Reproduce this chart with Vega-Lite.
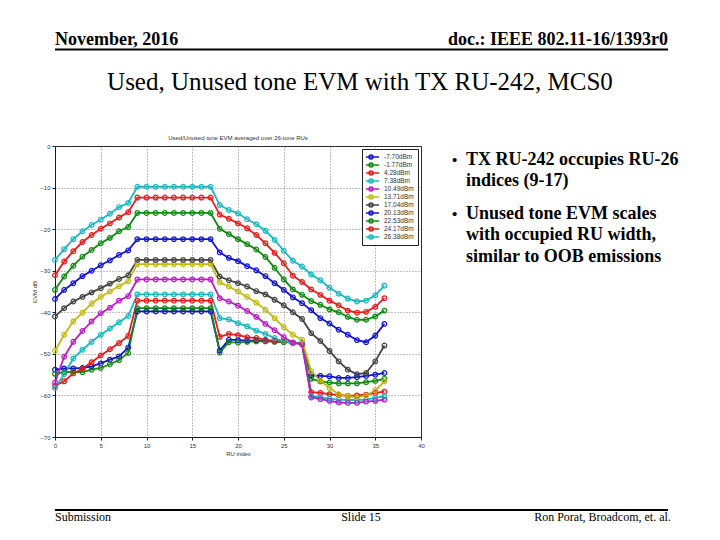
{
  "$schema": "https://vega.github.io/schema/vega-lite/v6.json",
  "width": 366,
  "height": 291,
  "autosize": {"type": "none"},
  "padding": {"left": 55, "top": 146, "right": 299, "bottom": 103},
  "background": "white",
  "config": {
    "view": {"stroke": "#1a1a1a", "strokeWidth": 1},
    "font": "Liberation Sans"
  },
  "layer": [
    {
      "data": {"values": [
        {"x":0,"A":-53.8,"B":-54.8,"C":-57.7,"D":-58.2,"E":-56.9,"F":-49.3,"G":-41.0,"H":-36.8,"I":-34.6,"J":-31.1,"K":-27.4},
        {"x":1,"A":-53.5,"B":-54.4,"C":-56.6,"D":-54.9,"E":-50.7,"F":-45.4,"G":-39.0,"H":-34.6,"I":-31.4,"J":-27.8,"K":-24.8},
        {"x":2,"A":-53.5,"B":-54.3,"C":-54.7,"D":-51.1,"E":-47.1,"F":-42.2,"G":-37.4,"H":-33.0,"I":-28.8,"J":-25.3,"K":-22.4},
        {"x":3,"A":-53.4,"B":-54.4,"C":-53.6,"D":-49.0,"E":-44.5,"F":-40.1,"G":-36.3,"H":-31.3,"I":-26.6,"J":-23.1,"K":-20.5},
        {"x":4,"A":-53.0,"B":-53.8,"C":-52.0,"D":-47.1,"E":-42.2,"F":-37.9,"G":-35.2,"H":-30.0,"I":-25.0,"J":-21.4,"K":-19.0},
        {"x":5,"A":-52.3,"B":-53.4,"C":-50.4,"D":-45.4,"E":-40.2,"F":-36.3,"G":-34.2,"H":-28.7,"I":-23.4,"J":-19.9,"K":-17.7},
        {"x":6,"A":-51.4,"B":-52.5,"C":-48.9,"D":-43.9,"E":-38.9,"F":-35.0,"G":-33.1,"H":-27.5,"I":-22.1,"J":-18.6,"K":-16.3},
        {"x":7,"A":-50.6,"B":-51.5,"C":-47.4,"D":-42.4,"E":-37.2,"F":-33.7,"G":-32.0,"H":-26.2,"I":-20.5,"J":-17.2,"K":-14.7},
        {"x":8,"A":-48.5,"B":-49.8,"C":-45.7,"D":-40.9,"E":-36.1,"F":-32.5,"G":-31.1,"H":-25.1,"I":-19.5,"J":-15.9,"K":-13.7},
        {"x":9,"A":-39.8,"B":-39.0,"C":-37.2,"D":-35.7,"E":-32.1,"F":-28.4,"G":-27.4,"H":-22.4,"I":-16.1,"J":-12.4,"K":-9.8},
        {"x":10,"A":-39.8,"B":-39.0,"C":-37.2,"D":-35.7,"E":-32.1,"F":-28.4,"G":-27.4,"H":-22.4,"I":-16.1,"J":-12.4,"K":-9.8},
        {"x":11,"A":-39.8,"B":-39.0,"C":-37.2,"D":-35.7,"E":-32.1,"F":-28.4,"G":-27.4,"H":-22.4,"I":-16.1,"J":-12.4,"K":-9.8},
        {"x":12,"A":-39.8,"B":-39.0,"C":-37.2,"D":-35.7,"E":-32.1,"F":-28.4,"G":-27.4,"H":-22.4,"I":-16.1,"J":-12.4,"K":-9.8},
        {"x":13,"A":-39.8,"B":-39.0,"C":-37.2,"D":-35.7,"E":-32.1,"F":-28.4,"G":-27.4,"H":-22.4,"I":-16.1,"J":-12.4,"K":-9.8},
        {"x":14,"A":-39.8,"B":-39.0,"C":-37.2,"D":-35.7,"E":-32.1,"F":-28.4,"G":-27.4,"H":-22.4,"I":-16.1,"J":-12.4,"K":-9.8},
        {"x":15,"A":-39.8,"B":-39.0,"C":-37.2,"D":-35.7,"E":-32.1,"F":-28.4,"G":-27.4,"H":-22.4,"I":-16.1,"J":-12.4,"K":-9.8},
        {"x":16,"A":-39.8,"B":-39.0,"C":-37.2,"D":-35.7,"E":-32.1,"F":-28.4,"G":-27.4,"H":-22.4,"I":-16.1,"J":-12.4,"K":-9.8},
        {"x":17,"A":-39.8,"B":-39.0,"C":-37.2,"D":-35.7,"E":-32.1,"F":-28.4,"G":-27.4,"H":-22.4,"I":-16.1,"J":-12.4,"K":-9.8},
        {"x":18,"A":-49.2,"B":-49.7,"C":-45.9,"D":-41.4,"E":-36.6,"F":-32.8,"G":-31.4,"H":-25.6,"I":-19.9,"J":-16.5,"K":-14.2},
        {"x":19,"A":-46.6,"B":-47.2,"C":-45.2,"D":-41.7,"E":-37.4,"F":-33.8,"G":-32.3,"H":-26.9,"I":-21.2,"J":-17.5,"K":-15.4},
        {"x":20,"A":-46.7,"B":-47.3,"C":-45.5,"D":-42.6,"E":-38.4,"F":-35.0,"G":-33.0,"H":-27.7,"I":-22.4,"J":-18.6,"K":-16.2},
        {"x":21,"A":-46.8,"B":-47.1,"C":-46.0,"D":-43.4,"E":-39.7,"F":-36.3,"G":-33.8,"H":-28.9,"I":-23.6,"J":-19.8,"K":-17.6},
        {"x":22,"A":-46.8,"B":-47.0,"C":-46.2,"D":-44.4,"E":-41.1,"F":-37.7,"G":-34.9,"H":-29.9,"I":-24.9,"J":-21.4,"K":-18.8},
        {"x":23,"A":-46.9,"B":-47.0,"C":-46.6,"D":-45.2,"E":-42.8,"F":-39.4,"G":-35.7,"H":-31.3,"I":-26.7,"J":-23.4,"K":-20.4},
        {"x":24,"A":-46.9,"B":-47.1,"C":-46.9,"D":-46.2,"E":-44.3,"F":-41.4,"G":-37.0,"H":-33.0,"I":-29.3,"J":-25.7,"K":-22.6},
        {"x":25,"A":-47.1,"B":-47.2,"C":-47.0,"D":-47.0,"E":-46.0,"F":-43.6,"G":-38.3,"H":-34.6,"I":-32.1,"J":-28.2,"K":-25.2},
        {"x":26,"A":-47.3,"B":-47.3,"C":-47.3,"D":-47.4,"E":-47.3,"F":-45.4,"G":-40.0,"H":-36.4,"I":-34.5,"J":-31.2,"K":-27.6},
        {"x":27,"A":-47.5,"B":-47.5,"C":-47.6,"D":-47.6,"E":-47.7,"F":-46.6,"G":-41.6,"H":-37.8,"I":-35.8,"J":-32.7,"K":-29.0},
        {"x":28,"A":-55.2,"B":-56.0,"C":-59.2,"D":-60.2,"E":-60.5,"F":-54.2,"G":-45.0,"H":-39.5,"I":-37.3,"J":-34.5,"K":-30.9},
        {"x":29,"A":-55.3,"B":-56.6,"C":-59.4,"D":-60.5,"E":-60.9,"F":-56.4,"G":-46.9,"H":-41.4,"I":-38.2,"J":-35.8,"K":-32.3},
        {"x":30,"A":-55.4,"B":-56.9,"C":-59.7,"D":-60.8,"E":-61.3,"F":-58.2,"G":-49.3,"H":-42.7,"I":-39.3,"J":-37.2,"K":-34.1},
        {"x":31,"A":-55.8,"B":-57.1,"C":-59.9,"D":-61.0,"E":-61.7,"F":-59.7,"G":-51.8,"H":-44.2,"I":-40.0,"J":-38.3,"K":-35.5},
        {"x":32,"A":-55.8,"B":-57.1,"C":-60.1,"D":-61.1,"E":-61.8,"F":-60.2,"G":-53.8,"H":-45.4,"I":-41.1,"J":-39.6,"K":-36.7},
        {"x":33,"A":-55.6,"B":-57.1,"C":-60.0,"D":-61.1,"E":-61.8,"F":-60.5,"G":-54.9,"H":-46.7,"I":-41.8,"J":-40.1,"K":-37.4},
        {"x":34,"A":-55.3,"B":-56.8,"C":-59.8,"D":-61.0,"E":-61.5,"F":-60.0,"G":-54.6,"H":-47.2,"I":-41.8,"J":-39.9,"K":-37.2},
        {"x":35,"A":-55.0,"B":-56.5,"C":-59.4,"D":-60.6,"E":-61.3,"F":-58.8,"G":-51.8,"H":-45.6,"I":-41.0,"J":-38.7,"K":-35.9},
        {"x":36,"A":-54.6,"B":-56.0,"C":-59.1,"D":-60.2,"E":-61.0,"F":-56.6,"G":-48.0,"H":-42.8,"I":-39.6,"J":-36.6,"K":-33.6}
      ]},
      "transform": [{"fold": ["A","B","C","D","E","F","G","H","I","J","K"], "as": ["s","evm"]}],
      "mark": {"type": "line", "strokeWidth": 1.8, "point": {"filled": false, "size": 22, "strokeWidth": 1.2}},
      "encoding": {
        "x": {"field": "x", "type": "quantitative", "title": "RU index",
          "scale": {"domain": [0, 40], "nice": false, "zero": false},
          "axis": {"values": [0,5,10,15,20,25,30,35,40], "labelFontSize": 6, "labelColor": "#333333", "tickSize": 3, "tickColor": "#222222", "domainColor": "#1a1a1a", "gridColor": "#666666", "gridDash": [1,2], "gridWidth": 0.8, "titleFontSize": 6, "titleFontWeight": "normal", "titleColor": "#333333", "titlePadding": 2, "labelPadding": 2, "labelFlush": false}},
        "y": {"field": "evm", "type": "quantitative", "title": "EVM dB",
          "scale": {"domain": [-70, 0], "nice": false, "zero": false},
          "axis": {"values": [-70,-60,-50,-40,-30,-20,-10,0], "labelFontSize": 6, "labelColor": "#333333", "tickSize": 3, "tickColor": "#222222", "domainColor": "#1a1a1a", "gridColor": "#666666", "gridDash": [1,2], "gridWidth": 0.8, "titleFontSize": 6, "titleFontWeight": "normal", "titleColor": "#333333", "titlePadding": 2, "labelPadding": 2, "labelFlush": false}},
        "color": {"field": "s", "type": "nominal",
          "scale": {"domain": ["A","B","C","D","E","F","G","H","I","J","K"],
                    "range": ["#1515d0","#138a13","#e81c1c","#1cb8c0","#bb1cc4","#c2bb14","#454545","#1515d0","#138a13","#e81c1c","#1cb8c0"]},
          "legend": {"title": null, "orient": "top-right", "offset": 3, "padding": 4, "strokeColor": "#222222", "fillColor": "white",
            "labelFontSize": 6.5, "labelColor": "#333333", "labelOffset": 8, "rowPadding": 0, "clipHeight": 8,
            "symbolType": "M-2,0H2M0.5,0A0.5,0.5,0,1,1,-0.5,0A0.5,0.5,0,1,1,0.5,0", "symbolSize": 64, "symbolStrokeWidth": 1.6, "symbolFillColor": "transparent",
            "labelExpr": "{'A':'-7.70dBm','B':'-1.77dBm','C':'4.28dBm','D':'7.38dBm','E':'10.49dBm','F':'13.71dBm','G':'17.04dBm','H':'20.13dBm','I':'22.53dBm','J':'24.17dBm','K':'26.38dBm'}[datum.value]"}}
      }
    },
    {
      "data": {"values": [{}]},
      "mark": {"type": "text", "font": "Liberation Sans", "fontSize": 6, "align": "center", "baseline": "alphabetic", "color": "#333333"},
      "encoding": {"x": {"datum": 20, "type": "quantitative"}, "y": {"datum": 1.5, "type": "quantitative"}, "text": {"value": "Used/Unused tone EVM averaged over 26-tone RUs"}}
    },
    {
      "data": {"values": [{}]},
      "mark": {"type": "text", "font": "Liberation Serif", "fontSize": 18, "fontWeight": "bold", "align": "left", "baseline": "alphabetic", "color": "black"},
      "encoding": {"x": {"datum": 0, "type": "quantitative"}, "y": {"datum": 24.3, "type": "quantitative"}, "text": {"value": "November, 2016"}}
    },
    {
      "data": {"values": [{}]},
      "mark": {"type": "text", "font": "Liberation Serif", "fontSize": 18, "fontWeight": "bold", "align": "right", "baseline": "alphabetic", "color": "black"},
      "encoding": {"x": {"datum": 67.0, "type": "quantitative"}, "y": {"datum": 24.3, "type": "quantitative"}, "text": {"value": "doc.: IEEE 802.11-16/1393r0"}}
    },
    {
      "data": {"values": [{}]},
      "mark": {"type": "rule", "color": "black", "strokeWidth": 2},
      "encoding": {"x": {"datum": 0, "type": "quantitative"}, "x2": {"datum": 67.0}, "y": {"datum": 23.2, "type": "quantitative"}}
    },
    {
      "data": {"values": [{}]},
      "mark": {"type": "text", "font": "Liberation Serif", "fontSize": 25, "align": "center", "baseline": "alphabetic", "color": "black"},
      "encoding": {"x": {"datum": 33.33, "type": "quantitative"}, "y": {"datum": 13.5, "type": "quantitative"}, "text": {"value": "Used, Unused tone EVM with TX RU-242, MCS0"}}
    },
    {
      "data": {"values": [{}]},
      "mark": {"type": "text", "font": "Liberation Serif", "fontSize": 18, "fontWeight": "bold", "align": "left", "baseline": "alphabetic", "color": "black", "lineHeight": 21},
      "encoding": {"x": {"datum": 44.92, "type": "quantitative"}, "y": {"datum": -4.57, "type": "quantitative"}, "text": {"value": ["TX RU-242 occupies RU-26", "indices (9-17)"]}}
    },
    {
      "data": {"values": [{}]},
      "mark": {"type": "text", "font": "Liberation Serif", "fontSize": 18, "fontWeight": "bold", "align": "left", "baseline": "alphabetic", "color": "black", "lineHeight": 21.5},
      "encoding": {"x": {"datum": 44.92, "type": "quantitative"}, "y": {"datum": -17.56, "type": "quantitative"}, "text": {"value": ["Unused tone EVM scales", "with occupied RU width,", "similar to OOB emissions"]}}
    },
    {
      "data": {"values": [{}]},
      "mark": {"type": "text", "font": "Liberation Serif", "fontSize": 15, "fontWeight": "bold", "align": "left", "baseline": "alphabetic", "color": "black"},
      "encoding": {"x": {"datum": 43.39, "type": "quantitative"}, "y": {"datum": -4.57, "type": "quantitative"}, "text": {"value": "•"}}
    },
    {
      "data": {"values": [{}]},
      "mark": {"type": "text", "font": "Liberation Serif", "fontSize": 15, "fontWeight": "bold", "align": "left", "baseline": "alphabetic", "color": "black"},
      "encoding": {"x": {"datum": 43.39, "type": "quantitative"}, "y": {"datum": -17.56, "type": "quantitative"}, "text": {"value": "•"}}
    },
    {
      "data": {"values": [{}]},
      "mark": {"type": "rule", "color": "black", "strokeWidth": 2},
      "encoding": {"x": {"datum": 0, "type": "quantitative"}, "x2": {"datum": 67.0}, "y": {"datum": -87.56, "type": "quantitative"}}
    },
    {
      "data": {"values": [{}]},
      "mark": {"type": "text", "font": "Liberation Serif", "fontSize": 12, "align": "left", "baseline": "alphabetic", "color": "black"},
      "encoding": {"x": {"datum": 0, "type": "quantitative"}, "y": {"datum": -90.2, "type": "quantitative"}, "text": {"value": "Submission"}}
    },
    {
      "data": {"values": [{}]},
      "mark": {"type": "text", "font": "Liberation Serif", "fontSize": 12, "align": "center", "baseline": "alphabetic", "color": "black"},
      "encoding": {"x": {"datum": 33.44, "type": "quantitative"}, "y": {"datum": -90.2, "type": "quantitative"}, "text": {"value": "Slide 15"}}
    },
    {
      "data": {"values": [{}]},
      "mark": {"type": "text", "font": "Liberation Serif", "fontSize": 12, "align": "right", "baseline": "alphabetic", "color": "black"},
      "encoding": {"x": {"datum": 67.3, "type": "quantitative"}, "y": {"datum": -90.2, "type": "quantitative"}, "text": {"value": "Ron Porat, Broadcom, et. al."}}
    }
  ]
}
